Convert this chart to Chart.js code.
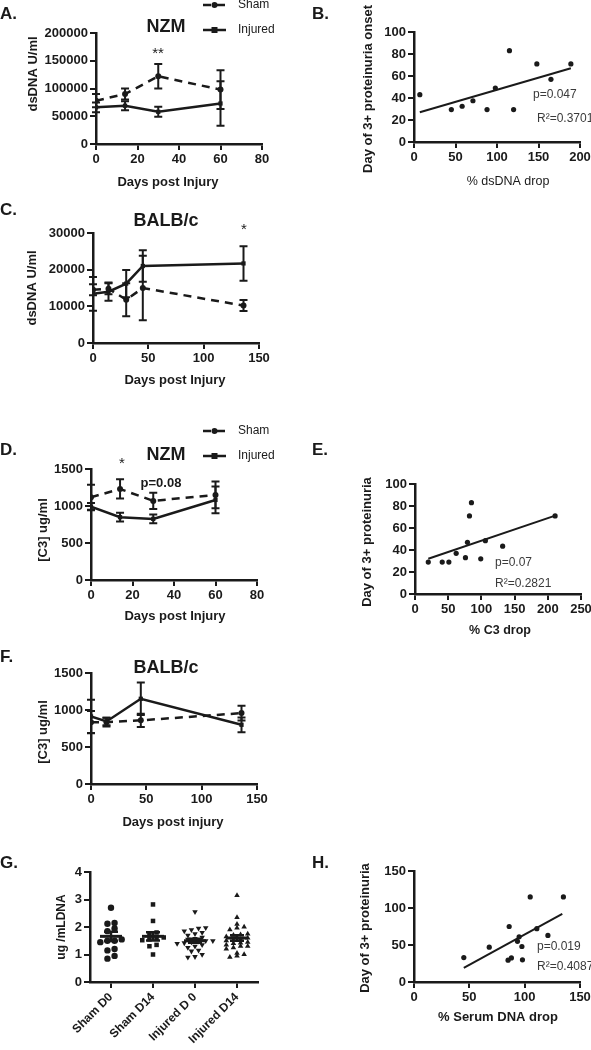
<!DOCTYPE html>
<html>
<head>
<meta charset="utf-8">
<script src="https://cdn.jsdelivr.net/npm/chart.js@4.4.1/dist/chart.umd.min.js"></script>
<style>
  body { margin: 0; width: 591px; height: 1050px; background: #fff; position: relative; overflow: hidden; }
  canvas { position: absolute; }
</style>
</head>
<body>
<canvas id="cA" width="295" height="200" style="left:0;top:0"></canvas>
<canvas id="cB" width="296" height="200" style="left:295px;top:0"></canvas>
<canvas id="cC" width="295" height="195" style="left:0;top:195px"></canvas>
<canvas id="cD" width="295" height="220" style="left:0;top:420px"></canvas>
<canvas id="cE" width="296" height="220" style="left:295px;top:420px"></canvas>
<canvas id="cF" width="295" height="190" style="left:0;top:640px"></canvas>
<canvas id="cG" width="295" height="210" style="left:0;top:840px"></canvas>
<canvas id="cH" width="296" height="210" style="left:295px;top:840px"></canvas>
<script>
// ---- data ----
// A. NZM dsDNA
const daysA = [0, 14, 30, 60];
const shamA = [78000, 90000, 122000, 98000];
const shamAErr = [12000, 10000, 22000, 35000];
const injA = [66000, 69000, 58000, 73000];
const injAErr = [9000, 8000, 9000, 40000];

// B. onset vs % dsDNA drop
const dropB = [7, 45, 58, 71, 88, 98, 115, 120, 148, 165, 189];
const onsetB = [43, 29.5, 32.5, 37.5, 29.5, 49, 83, 29.5, 71, 57, 71];
const fitBx = [7, 189];
const fitBy = [27, 67];

// C. BALB/c dsDNA
const daysC = [0, 14, 30, 45, 136];
const injC = [13400, 14000, 16200, 21000, 21700];
const injCErr = [4600, 2500, 3700, 4300, 4700];
const shamC = [14500, 14800, 11800, 15000, 10200];
const shamCErr = [1500, 1500, 4500, 8800, 1500];

// D. NZM C3
const daysD = [0, 14, 30, 60];
const shamD = [1118, 1230, 1069, 1150];
const shamDErr = [170, 130, 110, 180];
const injD = [992, 849, 826, 1082];
const injDErr = [50, 60, 60, 180];

// E. proteinuria vs % C3 drop
const dropE = [20, 41, 51, 62, 76, 79, 82, 85, 99, 106, 132, 211];
const dayE = [29, 29, 29, 37, 33, 47, 71, 83, 32, 48.5, 43.5, 71];
const fitEx = [20, 210];
const fitEy = [32, 71];

// F. BALB/c C3
const daysF = [0, 14, 45, 136];
const injF = [913, 845, 1152, 800];
const injFErr = [225, 50, 220, 100];
const shamF = [836, 836, 860, 958];
const shamFErr = [150, 60, 90, 100];

// G. serum DNA
const groupsG = ['Sham D0', 'Sham D14', 'Injured D 0', 'Injured D14'];
const gSham0 = [2.7, 2.15, 2.12, 1.95, 1.85, 1.55, 1.5, 1.5, 1.45, 1.2, 1.15, 0.95, 0.85];
const gSham14 = [2.82, 2.22, 1.8, 1.72, 1.62, 1.6, 1.55, 1.52, 1.35, 1.3, 1.0];
const gInj0 = [2.55, 1.97, 1.95, 1.9, 1.85, 1.8, 1.75, 1.7, 1.62, 1.58, 1.55, 1.5, 1.5, 1.48, 1.45, 1.42, 1.4, 1.35, 1.3, 1.25, 1.15, 1.12, 1.0, 0.92, 0.9];
const gInj14 = [3.15, 2.35, 2.1, 2.0, 1.97, 1.9, 1.75, 1.72, 1.7, 1.65, 1.6, 1.55, 1.52, 1.5, 1.45, 1.42, 1.4, 1.35, 1.3, 1.3, 1.25, 1.2, 1.05, 1.0, 0.95, 0.9];
const gMean = [1.66, 1.66, 1.5, 1.6];
const gSem = [0.17, 0.15, 0.07, 0.1];

// H. proteinuria vs % serum DNA drop
const dropH = [45, 68, 85, 88, 86, 93.5, 95, 97.5, 98, 105, 111, 121, 135];
const dayH = [33, 47, 29.5, 32.5, 75, 55, 61, 48, 30, 115, 72, 63, 115];
const fitHx = [45, 134];
const fitHy = [19, 92];

// ---- styling ----
const INK = '#1a1a1a';
const GREY = '#3a3a3a';
const FONT = "'Liberation Sans', Arial, sans-serif";

const pts = (xs, ys) => xs.map((x, i) => ({ x, y: ys[i] }));

// error bars, mean/SEM lines, free texts, legend
const extras = {
  id: 'extras',
  afterDatasetsDraw(chart) {
    const ctx = chart.ctx, xs = chart.scales.x, ys = chart.scales.y;
    ctx.save();
    ctx.strokeStyle = INK;
    ctx.setLineDash([]);
    chart.data.datasets.forEach(ds => {
      if (ds.errs) {
        ctx.lineWidth = 2;
        ds.data.forEach((p, i) => {
          const px = xs.getPixelForValue(p.x);
          const t = ys.getPixelForValue(p.y + ds.errs[i]);
          const b = ys.getPixelForValue(p.y - ds.errs[i]);
          ctx.beginPath();
          ctx.moveTo(px, t); ctx.lineTo(px, b);
          ctx.moveTo(px - 4, t); ctx.lineTo(px + 4, t);
          ctx.moveTo(px - 4, b); ctx.lineTo(px + 4, b);
          ctx.stroke();
        });
      }
      if (ds.mean !== undefined) {
        const c = xs.getPixelForValue(ds.cat);
        const m = ys.getPixelForValue(ds.mean);
        const t = ys.getPixelForValue(ds.mean + ds.sem);
        const b = ys.getPixelForValue(ds.mean - ds.sem);
        ctx.lineWidth = 3;
        ctx.beginPath(); ctx.moveTo(c - 11, m); ctx.lineTo(c + 11, m); ctx.stroke();
        ctx.lineWidth = 2.5;
        ctx.beginPath();
        ctx.moveTo(c, t); ctx.lineTo(c, b);
        ctx.moveTo(c - 7, t); ctx.lineTo(c + 7, t);
        ctx.moveTo(c - 7, b); ctx.lineTo(c + 7, b);
        ctx.stroke();
      }
    });
    ctx.restore();
  },
  afterDraw(chart, args, opts) {
    const ctx = chart.ctx;
    ctx.save();
    (opts.texts || []).forEach(o => {
      ctx.font = (o.bold ? 'bold ' : '') + (o.size || 13) + 'px ' + FONT;
      ctx.fillStyle = o.color || INK;
      ctx.textAlign = o.align || 'center';
      ctx.textBaseline = 'middle';
      ctx.save();
      ctx.translate(o.x, o.y);
      if (o.rot) ctx.rotate(-Math.PI / 2);
      ctx.fillText(o.t, 0, 0);
      ctx.restore();
    });
    (opts.legend || []).forEach(l => {
      const ds = chart.data.datasets[l.ds];
      ctx.strokeStyle = INK; ctx.fillStyle = INK;
      ctx.lineWidth = 2.5;
      ctx.setLineDash(ds.borderDash || []);
      ctx.beginPath(); ctx.moveTo(l.x0, l.y); ctx.lineTo(l.x1, l.y); ctx.stroke();
      ctx.setLineDash([]);
      const mx = (l.x0 + l.x1) / 2;
      if (ds.pointStyle === 'rect') ctx.fillRect(mx - 3, l.y - 3, 6, 6);
      else { ctx.beginPath(); ctx.arc(mx, l.y, 3, 0, Math.PI * 2); ctx.fill(); }
      ctx.font = '12px ' + FONT;
      ctx.textAlign = 'left'; ctx.textBaseline = 'middle';
      ctx.fillText(ds.label, l.tx, l.y);
    });
    ctx.restore();
  }
};

function axis(min, max, step) {
  return {
    type: 'linear', min, max,
    ticks: { stepSize: step, color: INK, padding: 2, font: { family: FONT, size: 13, weight: 'bold' }, callback: v => String(v) },
    grid: { drawOnChartArea: false, color: INK, lineWidth: 2, tickLength: 6 },
    border: { color: INK, width: 2.5 }
  };
}

function build(id, area, datasets, xAx, yAx, texts, legend) {
  const cv = document.getElementById(id);
  const W = cv.width, H = cv.height;
  xAx.afterFit = s => { s.height = H - area.b; s.paddingLeft = 0; s.paddingRight = 0; };
  yAx.afterFit = s => { s.width = area.l; s.paddingTop = 0; s.paddingBottom = 0; };
  new Chart(cv, {
    type: 'scatter',
    data: { datasets },
    options: {
      responsive: false,
      animation: false,
      layout: { padding: { left: 0, top: area.t, right: W - area.r, bottom: 0 } },
      scales: { x: xAx, y: yAx },
      plugins: { legend: { display: false }, tooltip: { enabled: false }, extras: { texts, legend: legend || [] } }
    },
    plugins: [extras]
  });
}

function lineSet(label, xs, ys, errs, dashed) {
  return {
    label, data: pts(xs, ys), errs,
    showLine: true, borderColor: INK, backgroundColor: INK, borderWidth: 2.5,
    borderDash: dashed ? [8, 6] : [],
    pointStyle: dashed ? 'circle' : 'rect', pointRadius: 3, pointBorderWidth: 0
  };
}
function dots(xs, ys) {
  return { data: pts(xs, ys), backgroundColor: INK, borderColor: INK, pointRadius: 2.6, pointBorderWidth: 0 };
}
function fit(xs, ys) {
  return { data: pts(xs, ys), showLine: true, borderColor: INK, borderWidth: 2, pointRadius: 0 };
}
const legendAt = (y0, y1) => [
  { ds: 0, y: y0, x0: 203, x1: 226, tx: 238 },
  { ds: 1, y: y1, x0: 203, x1: 226, tx: 238 }
];

// A
build('cA', { l: 96, r: 262, t: 33, b: 144 },
  [lineSet('Sham', daysA, shamA, shamAErr, true), lineSet('Injured', daysA, injA, injAErr, false)],
  axis(0, 80, 20), axis(0, 200000, 50000),
  [
    { t: 'A.', x: 0, y: 14, size: 17, bold: true, align: 'left' },
    { t: 'NZM', x: 166, y: 27, size: 18, bold: true },
    { t: '**', x: 158, y: 54, size: 15 },
    { t: 'dsDNA U/ml', x: 33, y: 74, rot: true, bold: true },
    { t: 'Days post Injury', x: 168, y: 182, bold: true }
  ], legendAt(5, 30));

// B
build('cB', { l: 119, r: 285, t: 32, b: 142 },
  [dots(dropB, onsetB), fit(fitBx, fitBy)],
  axis(0, 200, 50), axis(0, 100, 20),
  [
    { t: 'B.', x: 17, y: 14, size: 17, bold: true, align: 'left' },
    { t: 'Day of 3+ proteinuria onset', x: 73, y: 89, rot: true, bold: true },
    { t: '% dsDNA drop', x: 213, y: 182, size: 12.5 },
    { t: 'p=0.047', x: 238, y: 95, size: 12, align: 'left', color: GREY },
    { t: 'R²=0.3701', x: 242, y: 119, size: 12, align: 'left', color: GREY }
  ]);

// C
build('cC', { l: 93, r: 259, t: 38, b: 148 },
  [lineSet('Sham', daysC, shamC, shamCErr, true), lineSet('Injured', daysC, injC, injCErr, false)],
  axis(0, 150, 50), axis(0, 30000, 10000),
  [
    { t: 'C.', x: 0, y: 15, size: 17, bold: true, align: 'left' },
    { t: 'BALB/c', x: 166, y: 26, size: 18, bold: true },
    { t: '*', x: 244, y: 35, size: 15 },
    { t: 'dsDNA U/ml', x: 32, y: 93, rot: true, bold: true },
    { t: 'Days post Injury', x: 175, y: 185, bold: true }
  ]);

// D
build('cD', { l: 91, r: 257, t: 49, b: 160 },
  [lineSet('Sham', daysD, shamD, shamDErr, true), lineSet('Injured', daysD, injD, injDErr, false)],
  axis(0, 80, 20), axis(0, 1500, 500),
  [
    { t: 'D.', x: 0, y: 30, size: 17, bold: true, align: 'left' },
    { t: 'NZM', x: 166, y: 35, size: 18, bold: true },
    { t: '*', x: 122, y: 44, size: 15 },
    { t: 'p=0.08', x: 161, y: 63, bold: true },
    { t: '[C3] ug/ml', x: 43, y: 110, rot: true, bold: true },
    { t: 'Days post Injury', x: 175, y: 196, bold: true }
  ], legendAt(11, 36));

// E
build('cE', { l: 120, r: 286, t: 64, b: 174 },
  [dots(dropE, dayE), fit(fitEx, fitEy)],
  axis(0, 250, 50), axis(0, 100, 20),
  [
    { t: 'E.', x: 17, y: 30, size: 17, bold: true, align: 'left' },
    { t: 'Day of 3+ proteinuria', x: 72, y: 122, rot: true, bold: true },
    { t: '% C3 drop', x: 205, y: 211, size: 12.5, bold: true },
    { t: 'p=0.07', x: 200, y: 143, size: 12, align: 'left', color: GREY },
    { t: 'R²=0.2821', x: 200, y: 164, size: 12, align: 'left', color: GREY }
  ]);

// F
build('cF', { l: 91, r: 257, t: 33, b: 144 },
  [lineSet('Sham', daysF, shamF, shamFErr, true), lineSet('Injured', daysF, injF, injFErr, false)],
  axis(0, 150, 50), axis(0, 1500, 500),
  [
    { t: 'F.', x: 0, y: 17, size: 17, bold: true, align: 'left' },
    { t: 'BALB/c', x: 166, y: 28, size: 18, bold: true },
    { t: '[C3] ug/ml', x: 43, y: 92, rot: true, bold: true },
    { t: 'Days post injury', x: 173, y: 182, bold: true }
  ]);

// G: spread points of similar value side by side
function swarm(vals, cat) {
  const sorted = vals.slice().sort((a, b) => a - b);
  const out = [];
  let row = [], base = null;
  const flush = () => {
    row.forEach((v, k) => out.push({ x: cat + (k - (row.length - 1) / 2) * 0.17, y: v }));
    row = [];
  };
  sorted.forEach(v => {
    if (base === null || v - base > 0.12 || row.length >= 7) { flush(); base = v; }
    row.push(v);
  });
  flush();
  return out;
}
const gStyles = [
  { pointStyle: 'circle', rotation: 0 },
  { pointStyle: 'rect', rotation: 0 },
  { pointStyle: 'triangle', rotation: 180 },
  { pointStyle: 'triangle', rotation: 0 }
];
const gSets = [gSham0, gSham14, gInj0, gInj14].map((vals, i) => ({
  data: swarm(vals, i), cat: i, mean: gMean[i], sem: gSem[i],
  backgroundColor: INK, borderColor: INK, pointRadius: 3.2, pointBorderWidth: 0,
  pointStyle: gStyles[i].pointStyle, rotation: gStyles[i].rotation
}));
const gx = axis(-0.5, 3.5, 1);
gx.afterBuildTicks = s => { s.ticks = groupsG.map((g, i) => ({ value: i })); };
gx.ticks.callback = (v, i) => groupsG[i];
gx.ticks.autoSkip = false;
gx.ticks.minRotation = 45;
gx.ticks.maxRotation = 45;
gx.ticks.font = { family: FONT, size: 12, weight: 'bold' };
build('cG', { l: 90, r: 258, t: 32, b: 142 },
  gSets, gx, axis(0, 4, 1),
  [
    { t: 'G.', x: 0, y: 23, size: 17, bold: true, align: 'left' },
    { t: 'ug /mLDNA', x: 62, y: 87, rot: true, bold: true, size: 12 }
  ]);

// H
build('cH', { l: 119, r: 285, t: 31, b: 142 },
  [dots(dropH, dayH), fit(fitHx, fitHy)],
  axis(0, 150, 50), axis(0, 150, 50),
  [
    { t: 'H.', x: 17, y: 23, size: 17, bold: true, align: 'left' },
    { t: 'Day of 3+ proteinuria', x: 70, y: 88, rot: true, bold: true },
    { t: '% Serum DNA drop', x: 203, y: 177, bold: true },
    { t: 'p=0.019', x: 242, y: 107, size: 12, align: 'left', color: GREY },
    { t: 'R²=0.4087', x: 242, y: 127, size: 12, align: 'left', color: GREY }
  ]);
</script>
</body>
</html>
